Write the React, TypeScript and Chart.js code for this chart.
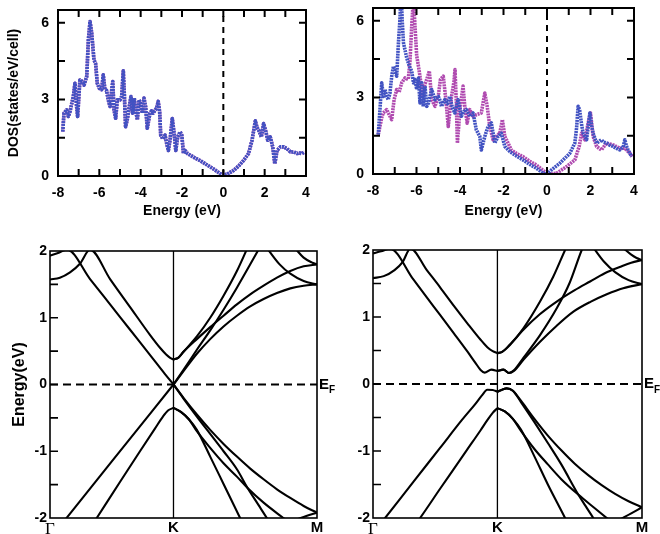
import React, { useEffect, useRef } from 'react';
import { Chart, registerables } from 'chart.js';
Chart.register(...registerables);

const W = 660;
const H = 534;
const FONT = "'Liberation Sans', Arial, Helvetica, sans-serif";
const SERIF = "'Liberation Serif', 'DejaVu Serif', serif";
const BLUE = '#4152c2';
const MAG = '#b04bb0';

type P = [number, number];

// ---------- DOS (top panels): [energy eV, states/eV/cell] ----------
const dosLeftUp: P[] = [[-7.77,1.74],[-7.71,2.46],[-7.58,2.59],[-7.5,2.33],[-7.42,2.52],[-7.26,3.11],[-7.18,3.63],[-7.1,2.72],[-7.05,2.33],[-6.94,3.76],[-6.8,3.69],[-6.74,3.56],[-6.61,3.9],[-6.53,5.33],[-6.45,6.05],[-6.37,5.6],[-6.26,4.55],[-6.18,4.4],[-6.1,3.63],[-6.0,3.43],[-5.89,3.38],[-5.81,3.96],[-5.73,3.38],[-5.65,3.35],[-5.57,2.98],[-5.48,2.72],[-5.4,3.38],[-5.35,3.7],[-5.29,2.59],[-5.21,2.26],[-5.13,2.98],[-5.0,2.98],[-4.92,3.11],[-4.84,4.12],[-4.79,3.2],[-4.73,1.93],[-4.65,2.2],[-4.55,2.72],[-4.47,3.11],[-4.39,2.46],[-4.31,3.05],[-4.25,2.59],[-4.16,2.2],[-4.08,2.98],[-4.0,2.85],[-3.92,2.46],[-3.84,3.05],[-3.76,2.72],[-3.68,1.87],[-3.55,2.46],[-3.47,2.55],[-3.4,2.46],[-3.23,2.66],[-3.15,2.92],[-3.08,2.5],[-3.03,1.6],[-2.93,1.45],[-2.82,1.6],[-2.74,1.27],[-2.66,1.0],[-2.58,1.4],[-2.47,2.25],[-2.38,1.66],[-2.3,1.0],[-2.21,1.53],[-2.09,1.73],[-2.01,1.6],[-1.93,0.88],[-1.85,1.0],[-1.74,0.88],[-1.4,0.72],[-1.12,0.6],[-0.8,0.44],[-0.48,0.28],[-0.15,0.09],[0,0.03],[0.17,0.07],[0.5,0.22],[0.75,0.4],[0.98,0.61],[1.22,0.88],[1.39,1.4],[1.55,2.16],[1.63,1.9],[1.71,1.79],[1.84,1.53],[1.95,2.05],[2.06,1.73],[2.15,1.4],[2.27,1.53],[2.39,1.14],[2.49,0.48],[2.6,1.0],[2.76,1.14],[2.92,1.14],[3.08,1.07],[3.25,0.94],[3.41,0.94],[3.57,0.88],[3.68,0.9],[3.81,0.88],[3.93,0.94]];
const dosLeftDown: P[] = dosLeftUp;

const dosRightUp: P[] = [[-7.76,1.54],[-7.68,2.52],[-7.6,3.57],[-7.52,3.04],[-7.45,3.31],[-7.37,3.04],[-7.3,2.91],[-7.22,3.17],[-7.14,3.83],[-7.06,4.22],[-6.99,4.03],[-6.91,3.83],[-6.83,5.14],[-6.76,6.06],[-6.71,7.2],[-6.66,6.06],[-6.6,5.14],[-6.45,4.55],[-6.33,4.22],[-6.22,4.03],[-6.14,3.57],[-6.07,3.7],[-5.99,3.31],[-5.91,3.76],[-5.84,2.78],[-5.76,3.57],[-5.69,2.65],[-5.61,3.44],[-5.53,2.65],[-5.45,2.78],[-5.3,3.31],[-5.15,2.91],[-5.0,3.04],[-4.93,2.91],[-4.85,2.65],[-4.7,2.91],[-4.58,2.75],[-4.47,3.04],[-4.35,2.6],[-4.24,2.39],[-4.09,2.91],[-3.94,2.26],[-3.82,2.45],[-3.71,2.52],[-3.55,2.26],[-3.4,2.39],[-3.25,1.73],[-3.09,1.47],[-3.02,0.94],[-2.86,1.47],[-2.71,1.86],[-2.56,2.0],[-2.48,1.6],[-2.4,1.21],[-2.25,1.47],[-2.1,1.6],[-1.94,1.08],[-1.71,0.88],[-1.4,0.7],[-1.1,0.55],[-0.8,0.38],[-0.48,0.22],[-0.18,0.03],[0,0],[0.21,0.16],[0.59,0.42],[1.05,0.81],[1.28,1.21],[1.36,1.8],[1.43,2.65],[1.5,2.52],[1.58,2.0],[1.66,1.6],[1.82,1.34],[1.9,1.9],[1.97,2.39],[2.05,1.9],[2.12,1.6],[2.28,1.21],[2.5,1.34],[2.6,1.25],[2.74,1.21],[2.9,1.12],[3.04,1.08],[3.2,1.0],[3.35,0.94],[3.5,1.05],[3.58,1.34],[3.65,1.1],[3.73,0.94],[3.89,0.68]];
const dosRightDown: P[] = [[-7.76,1.54],[-7.68,1.86],[-7.6,2.2],[-7.53,2.39],[-7.37,2.52],[-7.3,2.39],[-7.14,2.13],[-7.03,2.91],[-6.91,3.31],[-6.8,3.2],[-6.68,3.57],[-6.53,3.76],[-6.38,3.7],[-6.3,4.4],[-6.22,5.8],[-6.14,6.9],[-6.07,5.8],[-5.99,4.62],[-5.91,4.22],[-5.84,3.83],[-5.72,3.04],[-5.62,3.5],[-5.53,3.7],[-5.41,4.03],[-5.3,2.91],[-5.15,2.65],[-5.0,3.04],[-4.9,3.7],[-4.77,3.83],[-4.65,2.91],[-4.54,1.86],[-4.39,3.04],[-4.28,3.6],[-4.23,4.09],[-4.17,2.8],[-4.12,1.21],[-4.0,2.52],[-3.93,3.0],[-3.86,3.44],[-3.78,2.65],[-3.67,1.99],[-3.55,2.52],[-3.4,2.26],[-3.25,2.32],[-3.02,2.39],[-2.86,3.17],[-2.75,2.65],[-2.63,1.86],[-2.48,1.34],[-2.33,1.47],[-2.17,1.6],[-2.05,2.13],[-1.94,1.47],[-1.79,1.21],[-1.64,0.94],[-1.4,0.8],[-1.1,0.68],[-0.8,0.5],[-0.48,0.35],[-0.1,0.09],[0.15,0],[0.44,0.03],[0.9,0.29],[1.28,0.55],[1.48,1.08],[1.59,1.6],[1.74,1.34],[1.89,1.99],[2.0,2.39],[2.12,1.47],[2.28,1.08],[2.5,0.94],[2.74,1.21],[3.04,1.14],[3.35,1.01],[3.58,1.01],[3.81,0.81],[3.93,0.68]];

const dosXTicks = { min: -8, max: 4, step: 1 };
const dosYTicks = { min: 0, max: 6.5, step: 1.5 };

// ---------- Band structures (bottom panels): [k (Γ=0, K, M=1), E eV] ----------
const K_POS = 0.4625;
const kLabels = ['Γ', 'K', 'M'];
const kTicks = [0, K_POS, 1];

// left band panel
const bl_A: P[] = [[0,1.93],[0.03,1.97],[0.064,2.02],[0.15,1.58],[0.225,1.2],[0.3,0.82],[0.375,0.44],[0.43,0.16],[0.4625,0]];
const bl_B: P[] = [[0,1.573],[0.037,1.6],[0.075,1.68],[0.112,1.81],[0.15,2.02],[0.225,1.58],[0.3,1.16],[0.375,0.74],[0.412,0.55],[0.435,0.45],[0.45,0.4],[0.4625,0.375]];
const bl_C: P[] = [[0,-2.31],[0.23,-1.16],[0.4625,0]];
const bl_D: P[] = [[0,-3.08],[0.175,-2.0],[0.262,-1.46],[0.337,-1.0],[0.393,-0.66],[0.423,-0.48],[0.442,-0.39],[0.4625,-0.35]];
const bl_U1: P[] = [[0.4625,0.375],[0.48,0.4],[0.5,0.49],[0.55,0.72],[0.6,1.0],[0.65,1.33],[0.7,1.7],[0.74,2.05]];
const bl_U2: P[] = [[0.4625,0.375],[0.48,0.4],[0.5,0.49],[0.55,0.68],[0.6,0.86],[0.65,1.03],[0.7,1.2],[0.75,1.35],[0.8,1.48],[0.85,1.6],[0.9,1.7],[0.95,1.77],[1.0,1.8]];
const bl_L1: P[] = [[0.4625,0],[0.5,0.22],[0.55,0.52],[0.6,0.81],[0.65,1.12],[0.7,1.45],[0.75,1.8],[0.785,2.05]];
const bl_L2: P[] = [[0.4625,0],[0.5,0.2],[0.55,0.46],[0.6,0.68],[0.65,0.87],[0.7,1.03],[0.75,1.17],[0.8,1.28],[0.85,1.37],[0.9,1.44],[0.95,1.48],[1.0,1.5]];
const bl_R5: P[] = [[0.815,2.03],[0.86,1.8],[0.9,1.66],[0.95,1.55],[1.0,1.5]];
const bl_R6: P[] = [[0.92,2.03],[0.95,1.9],[0.98,1.83],[1.0,1.8]];
const bl_C1: P[] = [[0.4625,0],[0.5,-0.21],[0.55,-0.48],[0.6,-0.74],[0.65,-1.0],[0.7,-1.27],[0.74,-1.55],[0.78,-1.8],[0.812,-2.0],[0.83,-2.12]];
const bl_C2: P[] = [[0.4625,0],[0.5,-0.2],[0.55,-0.45],[0.6,-0.68],[0.65,-0.89],[0.7,-1.08],[0.75,-1.26],[0.8,-1.42],[0.85,-1.57],[0.9,-1.7],[0.95,-1.82],[1.0,-1.92]];
const bl_D1: P[] = [[0.4625,-0.35],[0.49,-0.41],[0.52,-0.52],[0.55,-0.68],[0.6,-1.08],[0.65,-1.49],[0.712,-2.0],[0.73,-2.15]];
const bl_D2: P[] = [[0.4625,-0.35],[0.49,-0.41],[0.52,-0.52],[0.55,-0.7],[0.6,-0.95],[0.65,-1.18],[0.7,-1.38],[0.74,-1.55],[0.8,-1.77],[0.874,-2.0],[0.9,-2.08]];
const bl_Arc: P[] = [[0.924,-2.02],[0.96,-1.97],[1.0,-1.92]];

// right band panel
const br_A: P[] = [[0,1.95],[0.03,1.98],[0.063,2.02],[0.15,1.56],[0.225,1.16],[0.3,0.76],[0.35,0.49],[0.38,0.32],[0.4,0.21],[0.415,0.17],[0.44,0.215],[0.4625,0.195]];
const br_B: P[] = [[0,1.58],[0.04,1.61],[0.08,1.7],[0.11,1.82],[0.139,2.02],[0.2,1.7],[0.25,1.44],[0.3,1.17],[0.35,0.91],[0.4,0.66],[0.425,0.55],[0.445,0.49],[0.4625,0.46]];
const br_V1: P[] = [[0,-2.23],[0.045,-2.0],[0.15,-1.46],[0.25,-0.95],[0.33,-0.54],[0.38,-0.3],[0.405,-0.17],[0.425,-0.085],[0.445,-0.09],[0.4625,-0.115]];
const br_V2: P[] = [[0,-2.95],[0.175,-2.0],[0.25,-1.56],[0.3,-1.27],[0.35,-0.98],[0.4,-0.69],[0.425,-0.54],[0.445,-0.43],[0.4625,-0.36]];
const br_U1: P[] = [[0.4625,0.46],[0.48,0.48],[0.509,0.58],[0.559,0.83],[0.621,1.23],[0.67,1.6],[0.714,2.0],[0.73,2.14]];
const br_U2: P[] = [[0.4625,0.46],[0.48,0.48],[0.509,0.59],[0.559,0.81],[0.62,1.04],[0.683,1.23],[0.75,1.4],[0.807,1.53],[0.86,1.65],[0.92,1.75],[0.96,1.81],[1.0,1.85]];
const br_L1: P[] = [[0.4625,0.195],[0.485,0.215],[0.505,0.165],[0.525,0.21],[0.559,0.39],[0.621,0.73],[0.683,1.13],[0.73,1.5],[0.776,2.0],[0.79,2.12]];
const br_L2: P[] = [[0.4625,0.195],[0.485,0.215],[0.505,0.165],[0.525,0.2],[0.559,0.36],[0.621,0.63],[0.683,0.87],[0.745,1.08],[0.81,1.23],[0.869,1.34],[0.93,1.43],[1.0,1.49]];
const br_R5: P[] = [[0.82,2.03],[0.86,1.82],[0.9,1.67],[0.95,1.55],[1.0,1.49]];
const br_R6: P[] = [[0.93,2.03],[0.96,1.93],[0.98,1.88],[1.0,1.85]];
const br_C1: P[] = [[0.4625,-0.115],[0.48,-0.085],[0.497,-0.065],[0.52,-0.1],[0.55,-0.27],[0.6,-0.57],[0.65,-0.88],[0.7,-1.2],[0.763,-1.65],[0.79,-1.82],[0.819,-2.0],[0.84,-2.14]];
const br_C2: P[] = [[0.4625,-0.115],[0.48,-0.085],[0.497,-0.065],[0.52,-0.1],[0.55,-0.25],[0.6,-0.52],[0.65,-0.77],[0.7,-0.99],[0.75,-1.19],[0.8,-1.36],[0.85,-1.51],[0.9,-1.64],[0.95,-1.75],[1.0,-1.84]];
const br_D1: P[] = [[0.4625,-0.36],[0.49,-0.41],[0.52,-0.52],[0.55,-0.68],[0.6,-1.08],[0.65,-1.5],[0.714,-2.0],[0.73,-2.13]];
const br_D2: P[] = [[0.4625,-0.36],[0.49,-0.41],[0.52,-0.52],[0.55,-0.7],[0.6,-0.97],[0.65,-1.2],[0.7,-1.42],[0.763,-1.65],[0.82,-1.84],[0.869,-2.0],[0.9,-2.1]];
const br_Arc: P[] = [[0.918,-2.02],[0.96,-1.93],[1.0,-1.84]];

const bandsLeft = [bl_A, bl_B, bl_C, bl_D, bl_U1, bl_U2, bl_L1, bl_L2, bl_R5, bl_R6, bl_C1, bl_C2, bl_D1, bl_D2, bl_Arc];
const bandsRight = [br_A, br_B, br_V1, br_V2, br_U1, br_U2, br_L1, br_L2, br_R5, br_R6, br_C1, br_C2, br_D1, br_D2, br_Arc];
const bandYTicks = { min: -2, max: 2, step: 0.5 };

// ---------- helpers ----------
const pts = (a: P[]) => a.map(([x, y]) => ({ x, y }));

type Rect = { L: number; T: number; R: number; B: number; yW: number; xH: number };

function framePlugin(o: { lw: number; tl: number; xBoth: boolean; yRight: boolean; ef: boolean }) {
  return {
    id: 'frameTicks',
    afterDatasetsDraw(chart: any) {
      const { ctx, chartArea: a, scales } = chart;
      const xs = scales.x, ys = scales.y;
      ctx.save();
      ctx.strokeStyle = '#000';
      ctx.lineWidth = o.lw;
      ctx.setLineDash([]);
      ctx.strokeRect(a.left, a.top, a.right - a.left, a.bottom - a.top);
      ctx.beginPath();
      if (o.xBoth) {
        for (const t of xs.ticks) {
          const p = xs.getPixelForValue(t.value);
          if (p <= a.left + 1 || p >= a.right - 1) continue;
          ctx.moveTo(p, a.bottom); ctx.lineTo(p, a.bottom - o.tl);
          ctx.moveTo(p, a.top); ctx.lineTo(p, a.top + o.tl);
        }
      }
      for (const t of ys.ticks) {
        const p = ys.getPixelForValue(t.value);
        if (p <= a.top + 1 || p >= a.bottom - 1) continue;
        ctx.moveTo(a.left, p); ctx.lineTo(a.left + o.tl, p);
        if (o.yRight) { ctx.moveTo(a.right, p); ctx.lineTo(a.right - o.tl, p); }
      }
      ctx.stroke();
      if (o.ef) {
        const y0 = ys.getPixelForValue(0);
        ctx.fillStyle = '#000';
        ctx.textBaseline = 'middle';
        ctx.textAlign = 'left';
        ctx.font = `bold 15px ${FONT}`;
        const x0 = a.right + 2;
        ctx.fillText('E', x0, y0);
        const w = ctx.measureText('E').width;
        ctx.font = `bold 10px ${FONT}`;
        ctx.fillText('F', x0 + w, y0 + 6);
      }
      ctx.restore();
    },
  };
}

function padding(r: Rect) {
  return { left: r.L - r.yW, top: r.T, right: W - r.R, bottom: H - r.B - r.xH };
}

const dosLine = { borderWidth: 3.6, borderDash: [2, 0.8], borderJoinStyle: 'round', borderCapStyle: 'butt', pointRadius: 0, tension: 0 };

function dosConfig(r: Rect, up: P[], down: P[], yTitle: string | null): any {
  return {
    type: 'line',
    data: {
      datasets: [
        { ...dosLine, data: pts(up), borderColor: BLUE },
        { ...dosLine, data: pts(down), borderColor: MAG },
        { data: [{ x: 0, y: dosYTicks.min }, { x: 0, y: dosYTicks.max }], borderColor: '#000', borderWidth: 2, borderDash: [6, 5], pointRadius: 0 },
      ],
    },
    options: {
      responsive: false, animation: false, events: [],
      layout: { padding: padding(r) },
      plugins: { legend: { display: false }, tooltip: { enabled: false } },
      scales: {
        x: {
          type: 'linear', min: dosXTicks.min, max: dosXTicks.max,
          grid: { display: false, drawTicks: false }, border: { display: false },
          ticks: { stepSize: dosXTicks.step, includeBounds: false, autoSkip: false, maxRotation: 0, padding: 9, color: '#000',
            font: { size: 14, weight: 'bold' }, callback: (v: number) => (Math.round(v) % 2 === 0 ? String(v) : '') },
          title: { display: true, text: 'Energy (eV)', color: '#000', font: { size: 14, weight: 'bold' }, padding: { top: 0, bottom: 10 } },
          afterFit: (s: any) => { s.height = r.xH; s.paddingLeft = 0; s.paddingRight = 0; },
        },
        y: {
          type: 'linear', min: dosYTicks.min, max: dosYTicks.max,
          grid: { display: false, drawTicks: false }, border: { display: false },
          ticks: { stepSize: dosYTicks.step, includeBounds: false, padding: 9, color: '#000',
            font: { size: 14, weight: 'bold' }, callback: (v: number) => (Math.abs(v % 3) < 1e-9 ? String(v) : '') },
          title: { display: !!yTitle, text: yTitle || '', color: '#000', font: { size: 14, weight: 'bold' }, padding: { top: 6, bottom: 0 } },
          afterFit: (s: any) => { s.width = r.yW; s.paddingTop = 0; s.paddingBottom = 0; },
        },
      },
    },
    plugins: [framePlugin({ lw: 2, tl: 7, xBoth: true, yRight: true, ef: false })],
  };
}

function bandConfig(r: Rect, bands: P[][], yTitle: string | null): any {
  const ds: any[] = bands.map((b) => ({
    data: pts(b), borderColor: '#000', borderWidth: 2.1, pointRadius: 0, cubicInterpolationMode: 'monotone', borderJoinStyle: 'round',
  }));
  ds.push({ data: [{ x: K_POS, y: bandYTicks.min }, { x: K_POS, y: bandYTicks.max }], borderColor: '#000', borderWidth: 1.3, pointRadius: 0 });
  ds.push({ data: [{ x: 0, y: 0 }, { x: 1, y: 0 }], borderColor: '#000', borderWidth: 1.8, borderDash: [8, 5], pointRadius: 0 });
  return {
    type: 'line',
    data: { datasets: ds },
    options: {
      responsive: false, animation: false, events: [],
      layout: { padding: padding(r) },
      plugins: { legend: { display: false }, tooltip: { enabled: false } },
      scales: {
        x: {
          type: 'linear', min: 0, max: 1,
          grid: { display: false, drawTicks: false }, border: { display: false },
          afterBuildTicks: (s: any) => { s.ticks = kTicks.map((v) => ({ value: v })); },
          ticks: { autoSkip: false, maxRotation: 0, padding: 1, color: '#000',
            font: (c: any) => (c.index === 0 ? { family: SERIF, size: 17, weight: 'normal' } : { size: 15, weight: 'bold' }),
            callback: (_v: number, i: number) => kLabels[i] },
          afterFit: (s: any) => { s.height = r.xH; s.paddingLeft = 0; s.paddingRight = 0; },
        },
        y: {
          type: 'linear', min: bandYTicks.min, max: bandYTicks.max,
          grid: { display: false, drawTicks: false }, border: { display: false },
          ticks: { stepSize: bandYTicks.step, includeBounds: false, padding: 3, color: '#000',
            font: { size: 14, weight: 'bold' }, callback: (v: number) => (Number.isInteger(v) ? String(v) : '') },
          title: { display: !!yTitle, text: yTitle || '', color: '#000', font: { size: 16, weight: 'bold' }, padding: { top: 10, bottom: 0 } },
          afterFit: (s: any) => { s.width = r.yW; s.paddingTop = 0; s.paddingBottom = 0; },
        },
      },
    },
    plugins: [framePlugin({ lw: 1.6, tl: 8, xBoth: false, yRight: false, ef: true })],
  };
}

const panelTL: Rect = { L: 58, T: 10, R: 306, B: 176, yW: 58, xH: 54 };
const panelTR: Rect = { L: 373, T: 8, R: 634, B: 174, yW: 30, xH: 56 };
const panelBL: Rect = { L: 50, T: 251, R: 317, B: 518, yW: 50, xH: 16 };
const panelBR: Rect = { L: 373, T: 250, R: 642, B: 518, yW: 30, xH: 16 };

function Panel({ config }: { config: any }) {
  const ref = useRef<HTMLCanvasElement | null>(null);
  useEffect(() => {
    if (!ref.current) return;
    const ch = new Chart(ref.current, config);
    return () => ch.destroy();
  }, [config]);
  return <canvas ref={ref} width={W} height={H} style={{ position: 'absolute', left: 0, top: 0, width: W, height: H }} />;
}

const configs = [
  dosConfig(panelTL, dosLeftUp, dosLeftDown, 'DOS(states/eV/cell)'),
  dosConfig(panelTR, dosRightUp, dosRightDown, null),
  bandConfig(panelBL, bandsLeft, 'Energy(eV)'),
  bandConfig(panelBR, bandsRight, null),
];

Chart.defaults.font.family = FONT;
Chart.defaults.color = '#000';

export default function App() {
  return (
    <div style={{ position: 'fixed', left: 0, top: 0, width: W, height: H, background: '#fff', overflow: 'hidden' }}>
      {configs.map((c, i) => (
        <Panel key={i} config={c} />
      ))}
    </div>
  );
}
